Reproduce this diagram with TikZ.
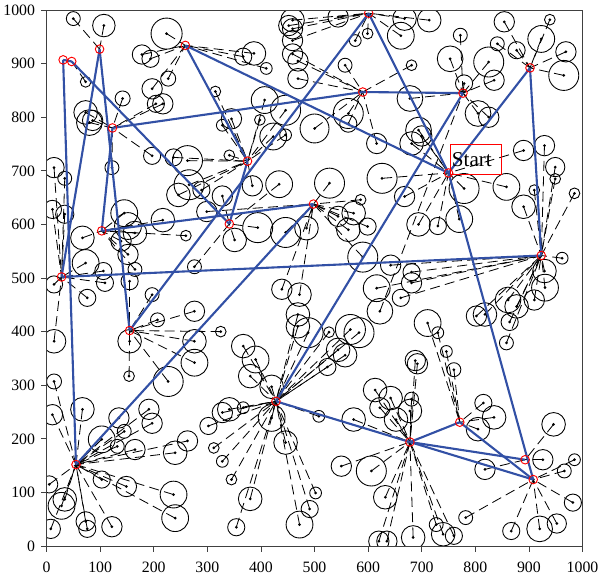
\documentclass[tikz,border=0pt]{standalone}
\usepackage{fontspec}
\setmainfont{Liberation Serif}
\usepackage{tikz}

\definecolor{tourblue}{RGB}{50,80,165}

\begin{document}
\begin{tikzpicture}[x=0.01608cm,y=0.01608cm,
	sensor/.style={black,line width=0.75pt},
	link/.style={black,line width=0.7pt,dash pattern=on 0.3cm off 0.16cm},
	tour/.style={tourblue,line width=1.8pt},
	hub/.style={red,line width=0.8pt},
	axis/.style={black!75,line width=0.7pt},
	ticklabel/.style={font=\fontsize{13.5}{15}\selectfont,inner sep=0pt}]
	\useasboundingbox (-86.8,-59.7) rectangle (1032.6,1018.7);

	\foreach \n/\hx/\hy in {h1/31/907,h2/47/904,h3/99/927,h4/259/934,h5/123/780,h6/375/718,
		h7/341/601,h8/103/588,h9/28/502,h10/498/638,h11/601/994,h12/590/847,h13/777/845,
		h14/902/892,hs/750/696,h15/923/542,h16/155/402,h17/55/152,h18/428/270,h19/678/194,
		h20/771/231,h21/893/161,h22/908/124}
		\coordinate (\n) at (\hx,\hy);

	\begin{scope}
	\clip (0,0) rectangle (1000,1000);
	\foreach \sx/\sy/\sr/\sh [count=\i] in {
		50/984/13/h3,107/971/21/h3,73/866/10/h2,142/835/14/h5,224/956/29/h4,194/909/16/h4,
		178/917/18/h4,197/853/19/h4,227/872/14/h4,204/825/16/h5,217/825/19/h5,73/809/22/h5,
		86/794/19/h5,80/790/24/h5,315/848/10/h6,328/785/11/h6,345/797/19/h6,398/795/10/h6,
		407/832/25/h6,446/813/28/h6,423/764/25/h6,446/767/11/h6,387/919/22/h4,410/891/11/h4,
		367/913/16/h4,452/971/19/h11,459/965/19/h11,459/943/19/h11,459/918/19/h12,469/905/19/h12,
		469/872/19/h12,599/956/10/h11,576/943/11/h11,661/952/25/h11,714/981/22/h11,668/984/22/h11,
		544/987/19/h11,459/981/22/h11,
		557/897/13/h12,681/897/10/h12,772/953/13/h13,753/909/24/h13,825/903/28/h13,835/869/19/h13,
		779/863/16/h13,854/978/19/h14,939/982/10/h14,923/946/25/h14,969/922/19/h14,965/878/28/h14,
		841/937/13/h14,877/925/16/h14,678/835/24/h13,563/807/28/h12,563/788/16/h12,500/779/27/h12,
		616/751/19/h12,694/776/24/hs,700/765/19/hs,681/751/22/hs,805/807/24/h13,825/800/19/h13,
		890/738/19/hs,929/747/19/h15,949/707/18/h15,949/685/10/h15,985/658/10/h15,910/664/10/h15,
		890/633/22/h15,858/670/25/hs,779/667/28/hs,668/652/19/hs,626/686/28/hs,528/677/28/h10,
		586/646/10/h10,434/675/25/h7,384/672/19/h6,328/653/19/h7,263/719/28/h6,237/725/16/h6,
		197/728/16/h5,266/674/28/h6,246/655/22/h6,289/664/16/h6,341/729/10/h6,217/608/22/h8,
		145/621/25/h8,152/597/25/h8,165/584/22/h8,139/569/19/h8,152/544/19/h8,122/706/13/h5,
		14/706/19/h9,34/686/13/h9,11/628/17/h9,34/619/17/h9,67/575/22/h8,73/528/25/h9,
		165/516/13/h8,260/579/10/h8,299/624/19/h10,351/571/22/h7,394/594/28/h7,446/585/28/h10,
		485/593/22/h10,544/615/19/h10,573/621/22/h10,
		563/590/22/h10,599/596/16/h10,694/600/22/hs,730/597/16/hs,770/610/25/hs,929/513/22/h15,
		962/537/11/h15,642/524/19/h15,681/511/16/h15,590/539/28/h10,106/513/16/h9,276/521/13/h7,
		14/488/16/h9,76/463/16/h9,109/491/16/h9,155/494/16/h16,197/469/13/h16,276/438/19/h16,
		207/422/13/h16,14/382/22/h9,14/307/14/h17,11/245/19/h17,67/255/22/h17,155/382/22/h16,
		276/382/22/h16,276/342/25/h16,227/307/28/h16,154/317/10/h16,191/255/19/h17,197/229/19/h17,
		135/239/19/h17,145/214/13/h17,103/199/25/h17,165/180/19/h17,132/186/13/h17,240/174/22/h17,
		263/196/19/h17,103/124/16/h17,149/111/19/h17,237/96/25/h17,240/52/25/h17,122/36/19/h17,
		76/32/16/h17,73/46/18/h17,8/32/18/h17,34/87/22/h17,28/75/25/h17,5/115/16/h17,
		325/400/10/h16,367/373/22/h18,390/348/25/h18,380/317/22/h18,420/297/22/h18,328/249/19/h18,
		341/255/22/h18,367/258/11/h18,302/224/16/h18,312/183/10/h18,328/158/11/h18,345/124/10/h18,
		380/88/22/h18,354/35/16/h18,446/193/22/h18,472/40/25/h18,491/69/16/h18,502/99/11/h18,
		508/242/11/h18,420/239/25/h18,439/479/19/h10,472/469/22/h10,469/432/22/h18,488/398/28/h18,
		469/410/22/h18,527/399/10/h18,567/404/28/h18,583/398/28/h18,544/366/22/h18,557/356/22/h18,
		524/334/16/h18,573/236/22/h19,550/149/19/h19,606/140/28/h19,632/91/22/h19,616/481/25/h15,
		622/438/24/h13,661/463/16/h15,681/491/19/h15,613/291/22/h19,642/276/22/h19,622/258/19/h19,
		681/274/13/h19,678/252/22/h19,652/236/22/h19,688/346/19/h19,692/340/19/h19,711/416/25/h20,
		730/398/11/h20,746/363/11/h20,760/329/13/h20,815/267/16/h20,835/240/22/h20,805/218/22/h20,
		818/143/19/h21,802/429/19/h15,818/432/22/h15,861/459/24/h15,877/447/22/h15,910/459/19/h15,
		930/482/25/h15,864/418/16/h15,858/379/13/h15,926/161/19/h21,946/227/22/h21,966/140/13/h22,
		985/161/11/h22,982/81/16/h22,920/32/24/h22,952/42/18/h22,867/28/16/h22,782/53/13/h22,
		740/22/22/h19,760/19/16/h19,727/40/13/h19,684/16/22/h19,635/9/19/h19,620/9/19/h19}{
		\coordinate (s\i) at (\sx,\sy);
		\draw[link] (s\i) -- (\sh);
		\draw[sensor] (s\i) circle (\sr);
		\fill (s\i) circle (2.8);
	}

	\foreach \a/\b in {h1/h2,h1/h17,h2/h7,h3/h9,h3/h16,h5/h12,h5/h8,h4/h6,h4/hs,h6/h7,
		h11/h16,h10/h17,h13/h18,hs/h22,h10/h8,h9/h15,h11/hs,h12/h13,h14/hs,h14/h15,
		h18/h19,h19/h20,h20/h22,h19/h21,h19/h22}
		\draw[tour] (\a) -- (\b);

	\foreach \n in {h1,h2,h3,h4,h5,h6,h7,h8,h9,h10,h11,h12,h13,h14,hs,h15,h16,h17,h18,h19,h20,h21,h22}
		\draw[hub] (\n) circle (8);
	\end{scope}

	\draw[red,line width=0.7pt] (753,694) rectangle (849,749);
	\node[anchor=base west,inner sep=0pt,font=\fontsize{18}{20}\selectfont] (start) at (756,707.6) {Start};

	\draw[axis] (0,0) rectangle (1000,1000);
	\foreach \t in {0,100,...,1000}{
		\draw[axis] (\t,0) -- (\t,-11);
		\node[ticklabel] (xl\t) at (\t,-39) {\t};
		\draw[axis] (0,\t) -- (-11,\t);
		\node[ticklabel,anchor=east] (yl\t) at (-21,\t) {\t};
	}
\end{tikzpicture}
\end{document}
